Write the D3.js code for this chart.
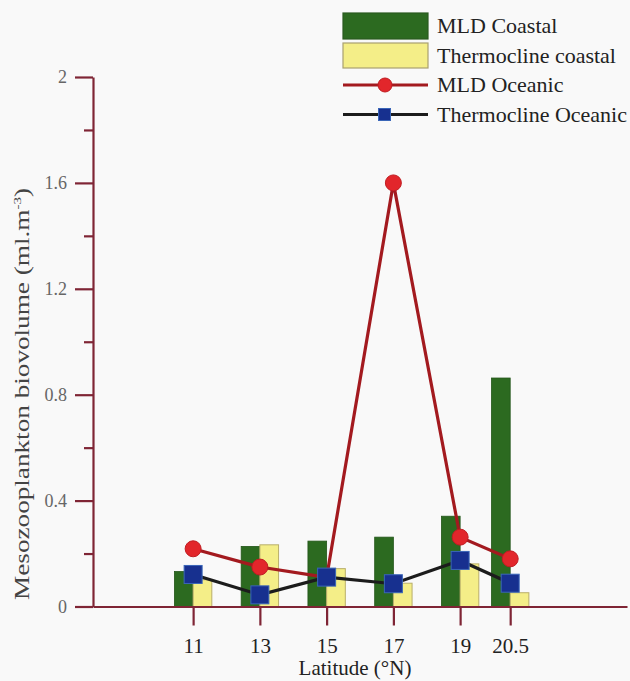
<!DOCTYPE html>
<html>
<head>
<meta charset="utf-8">
<script src="https://cdn.jsdelivr.net/npm/d3@7"></script>
<style>
  html, body { margin: 0; padding: 0; background: #f9f9f9; }
  svg { display: block; font-family: "Liberation Serif", "DejaVu Serif", serif; }
</style>
</head>
<body>
<svg id="chart" width="630" height="681"></svg>
<script>
// Latitude stations (°N)
const latitudes = [11, 13, 15, 17, 19, 20.5];
// Coastal biovolume (ml.m-3), shown as bars
const mldCoastal = [0.132, 0.227, 0.247, 0.262, 0.341, 0.863];
const thermoclineCoastal = [0.101, 0.233, 0.143, 0.088, 0.161, 0.052];
// Oceanic biovolume (ml.m-3), shown as lines with markers
const mldOceanic = [0.218, 0.149, 0.11, 1.6, 0.262, 0.18];
const thermoclineOceanic = [0.121, 0.044, 0.111, 0.086, 0.174, 0.088];
// Axis ticks
const yMajorTicks = [0, 0.4, 0.8, 1.2, 1.6, 2];
const yMinorTicks = [0.2, 0.6, 1.0, 1.4, 1.8];
const yTickLabels = ["0", "0.4", "0.8", "1.2", "1.6", "2"];
const xTickLabels = ["11", "13", "15", "17", "19", "20.5"];
// Legend entries
const legendLabels = ["MLD Coastal", "Thermocline coastal", "MLD Oceanic", "Thermocline Oceanic"];

const svg = d3.select("#chart");
const axisColor = "#7f2535";
const green = "#2c6a20";
const yellow = "#f4ee88";
const red = "#e2262b";
const darkRed = "#a31a1f";
const navy = "#17308f";

const x = d3.scaleLinear().domain([8, 24]).range([93, 627]);
const y = d3.scaleLinear().domain([0, 2]).range([606.5, 77]);
const barW = x(0.56) - x(0);

// Bars: MLD coastal to the left of each latitude, thermocline coastal to the right
const bars = svg.append("g");
bars.selectAll("rect.mld").data(latitudes).join("rect")
  .attr("class", "mld")
  .attr("x", d => x(d) - barW)
  .attr("y", (d, i) => y(mldCoastal[i]))
  .attr("width", barW)
  .attr("height", (d, i) => y(0) - y(mldCoastal[i]))
  .attr("fill", green)
  .attr("stroke", "#24561a")
  .attr("stroke-width", 0.8);
bars.selectAll("rect.th").data(latitudes).join("rect")
  .attr("class", "th")
  .attr("x", d => x(d))
  .attr("y", (d, i) => y(thermoclineCoastal[i]))
  .attr("width", barW)
  .attr("height", (d, i) => y(0) - y(thermoclineCoastal[i]))
  .attr("fill", yellow)
  .attr("stroke", "#b9ae6a")
  .attr("stroke-width", 1);

// Axes
const yAxis = d3.axisLeft(y).tickValues(yMajorTicks)
  .tickFormat((d, i) => yTickLabels[i]).tickSize(18).tickSizeOuter(0).tickPadding(8);
const gy = svg.append("g").attr("transform", `translate(${x(8)},0)`).call(yAxis);
const gyMinor = svg.append("g").attr("transform", `translate(${x(8)},0)`)
  .call(d3.axisLeft(y).tickValues(yMinorTicks).tickFormat("").tickSize(9).tickSizeOuter(0));
gyMinor.select(".domain").remove();

const xAxis = d3.axisBottom(x).tickValues(latitudes)
  .tickFormat((d, i) => xTickLabels[i]).tickSize(19).tickSizeOuter(0).tickPadding(13);
const gx = svg.append("g").attr("transform", `translate(0,${y(0)})`).call(xAxis);

[gy, gyMinor, gx].forEach(g => {
  g.selectAll(".domain").attr("stroke", axisColor).attr("stroke-width", 2.2);
  g.selectAll(".tick line").attr("stroke", axisColor).attr("stroke-width", 2.2);
});
gy.selectAll(".tick text").attr("font-size", 18).attr("fill", "#666")
  .attr("font-family", "Liberation Serif");
gx.selectAll(".tick text").attr("font-size", 21).attr("fill", "#222")
  .attr("font-family", "Liberation Serif");

// Axis titles
svg.append("text")
  .attr("x", 355).attr("y", 675)
  .attr("text-anchor", "middle")
  .attr("font-size", 21).attr("fill", "#222")
  .text("Latitude (°N)");

const yt = svg.append("text")
  .attr("transform", "translate(29,394) rotate(-90) scale(1.36,1)")
  .attr("text-anchor", "middle")
  .attr("font-size", 20).attr("fill", "#444");
yt.append("tspan").text("Mesozooplankton biovolume (ml.m");
yt.append("tspan").attr("font-size", 11).attr("dy", -8).text("-3");
yt.append("tspan").attr("dy", 8).text(")");

// Oceanic lines
const line = d3.line().x(d => x(d[0])).y(d => y(d[1]));
const mldPts = latitudes.map((d, i) => [d, mldOceanic[i]]);
const thPts = latitudes.map((d, i) => [d, thermoclineOceanic[i]]);

svg.append("path").datum(mldPts).attr("d", line)
  .attr("fill", "none").attr("stroke", darkRed).attr("stroke-width", 3.2);
svg.selectAll("circle.mld").data(mldPts).join("circle")
  .attr("class", "mld")
  .attr("cx", d => x(d[0])).attr("cy", d => y(d[1])).attr("r", 8)
  .attr("fill", red).attr("stroke", "#c01d22").attr("stroke-width", 1);

svg.append("path").datum(thPts).attr("d", line)
  .attr("fill", "none").attr("stroke", "#1c1c1c").attr("stroke-width", 3.2);
svg.selectAll("rect.thm").data(thPts).join("rect")
  .attr("class", "thm")
  .attr("x", d => x(d[0]) - 9).attr("y", d => y(d[1]) - 9)
  .attr("width", 18).attr("height", 18)
  .attr("fill", navy).attr("stroke", "#3a66b8").attr("stroke-width", 1);

// Legend
const lg = svg.append("g");
const rowY = [26, 55.5, 85, 114.5];
lg.append("rect").attr("x", 343).attr("y", 13).attr("width", 85).attr("height", 26)
  .attr("fill", green).attr("stroke", "#2a5a20").attr("stroke-width", 1.2);
lg.append("rect").attr("x", 343).attr("y", 43).attr("width", 85).attr("height", 25)
  .attr("fill", yellow).attr("stroke", "#a8a070").attr("stroke-width", 1.2);
lg.append("line").attr("x1", 343).attr("x2", 428).attr("y1", rowY[2]).attr("y2", rowY[2])
  .attr("stroke", darkRed).attr("stroke-width", 3.2);
lg.append("circle").attr("cx", 385).attr("cy", rowY[2]).attr("r", 7)
  .attr("fill", red).attr("stroke", "#c01d22");
lg.append("line").attr("x1", 343).attr("x2", 428).attr("y1", rowY[3]).attr("y2", rowY[3])
  .attr("stroke", "#1c1c1c").attr("stroke-width", 3.2);
lg.append("rect").attr("x", 378.5).attr("y", rowY[3] - 6).attr("width", 12).attr("height", 12)
  .attr("fill", navy).attr("stroke", "#3a66b8");
lg.selectAll("text").data(legendLabels).join("text")
  .attr("x", 437).attr("y", (d, i) => rowY[i] + 7)
  .attr("font-size", 22).attr("fill", "#222")
  .text(d => d);
</script>
</body>
</html>
